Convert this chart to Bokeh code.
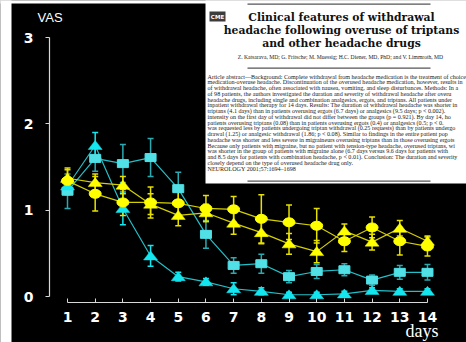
from bokeh.plotting import figure
from bokeh.models import (Range1d, FixedTicker, Whisker, TeeHead, ColumnDataSource,
                          BoxAnnotation, Label)
from bokeh.embed import file_html
from bokeh.resources import INLINE

# ---------------- data ----------------
days = [1, 2, 3, 4, 5, 6, 7, 8, 9, 10, 11, 12, 13, 14]
y_ticks = [0, 1, 2, 3]

yellow_circle = [1.34, 1.19, 1.09, 1.09, 1.08, 1.02, 1.01, 0.90, 0.86, 0.82, 0.64, 0.80, 0.64, 0.58]
yellow_circle_err = [0.15, 0.20, 0.15, 0.18, 0.15, 0.15, 0.15, 0.28, 0.20, 0.20, 0.12, 0.12, 0.16, 0.11]

yellow_tri = [1.37, 1.32, 1.29, 1.07, 0.94, 0.97, 0.85, 0.74, 0.61, 0.52, 0.76, 0.63, 0.79, 0.64]
yellow_tri_err = [0.10, 0.10, 0.10, 0.12, 0.12, 0.10, 0.13, 0.13, 0.12, 0.13, 0.08, 0.09, 0.09, 0.06]

cyan_square = [1.22, 1.60, 1.54, 1.61, 1.25, 0.72, 0.36, 0.38, 0.23, 0.29, 0.31, 0.19, 0.28, 0.28]
cyan_square_err = [0.20, 0.15, 0.22, 0.22, 0.19, 0.16, 0.09, 0.11, 0.07, 0.08, 0.07, 0.06, 0.08, 0.09]

cyan_tri = [1.28, 1.75, 1.02, 0.47, 0.23, 0.17, 0.09, 0.06, 0.02, 0.02, 0.03, 0.07, 0.06, 0.06]
cyan_tri_err = [0.10, 0.15, 0.19, 0.12, 0.05, 0.04, 0.07, 0.04, 0.03, 0.03, 0.03, 0.03, 0.03, 0.03]

title_lines = ["Clinical features of withdrawal",
               "headache following overuse of triptans",
               "and other headache drugs"]
authors = "Z. Katsarava, MD; G. Fritsche; M. Muessig; H.C. Diener, MD, PhD; and V. Limmroth, MD"
abstract_lines = [
    "Article abstract\u2014Background: Complete withdrawal from headache medication is the treatment of choice fo",
    "medication-overuse headache. Discontinuation of the overused headache medication, however, results in the developme",
    "of withdrawal headache, often associated with nausea, vomiting, and sleep disturbances. Methods: In a prospective stud",
    "of 98 patients, the authors investigated the duration and severity of withdrawal headache after overuse of variou",
    "headache drugs, including single and combination analgesics, ergots, and triptans. All patients underwent standar",
    "inpatient withdrawal therapy for 14 days. Results: The duration of withdrawal headache was shorter in patients overusin",
    "triptans (4.1 days) than in patients overusing ergots (6.7 days) or analgesics (9.5 days; p < 0.002). The mean headach",
    "intensity on the first day of withdrawal did not differ between the groups (p = 0.921). By day 14, however, it was lower i",
    "patients overusing triptans (0.08) than in patients overusing ergots (0.4) or analgesics (0.5; p < 0.008). Rescue medicatio",
    "was requested less by patients undergoing triptan withdrawal (0.25 requests) than by patients undergoing ergot with",
    "drawal (1.25) or analgesic withdrawal (1.86; p < 0.08). Similar to findings in the entire patient population, withdraw",
    "headache was shorter and less severe in migraineurs overusing triptans than in those overusing ergots or analges",
    "Because only patients with migraine, but no patient with tension-type headache, overused triptans, withdrawal headac",
    "was shorter in the group of patients with migraine alone (6.7 days versus 9.6 days for patients with tension-type headac",
    "and 8.5 days for patients with combination headache, p < 0.01). Conclusion: The duration and severity of withdraw",
    "closely depend on the type of overused headache drug only.",
    "NEUROLOGY 2001;57:1694\u20131698",
]
MAXCH = 101

# ---------------- geometry (page pixels == figure pixels) ----------------
W, H = 466, 342
PX, PY = 27.69, 86.3          # pixels per day / per VAS unit
X1_PAGE, Y0_PAGE = 67, 296    # page position of day 1 / VAS 0
x_start = 1 - X1_PAGE / PX
x_end = x_start + W / PX
y_end = Y0_PAGE / PY
y_start = y_end - H / PY


def dx(fx):  # page pixel x -> data x
    return x_start + fx / PX


def dy(fy):  # page pixel y (from top) -> data y
    return y_end - fy / PY


p = figure(width=W, height=H, output_backend="svg", toolbar_location=None,
           x_range=Range1d(x_start, x_end), y_range=Range1d(y_start, y_end),
           min_border=0, background_fill_color="black", border_fill_color="black",
           outline_line_color=None)
p.title.visible = False
p.grid.visible = False

for ax in (p.xaxis[0], p.yaxis[0]):
    ax.axis_line_color = "#d8d8d8"
    ax.axis_line_width = 1.2
    ax.major_tick_line_color = "#d8d8d8"
    ax.minor_tick_line_color = None
    ax.major_label_text_color = "white"
    ax.major_label_text_font = "DejaVu Sans"
    ax.major_label_text_font_style = "bold"
    ax.major_label_text_font_size = "14px"

p.xaxis.fixed_location = dy(302)
p.xaxis.bounds = (1, 14)
p.xaxis.ticker = FixedTicker(ticks=days)
p.xaxis.major_tick_in = 4
p.xaxis.major_tick_out = 0
p.xaxis.major_label_standoff = 9

p.yaxis.fixed_location = dx(49)
p.yaxis.bounds = (0, 3)
p.yaxis.ticker = FixedTicker(ticks=y_ticks)
p.yaxis.major_tick_in = 0
p.yaxis.major_tick_out = 4
p.yaxis.major_label_standoff = 12

YEL = "#ffff00"
YEL_LINE = "#d4cf00"
CYA_T = "#14e6f0"
CYA_S = "#50e0e6"
CYA_LINE = "#22bfc8"
CYA_BAR = "#2aaab2"


def whisk(vals, errs, color):
    src = ColumnDataSource(dict(x=days, lo=[v - e for v, e in zip(vals, errs)],
                                hi=[v + e for v, e in zip(vals, errs)]))
    w = Whisker(source=src, base="x", lower="lo", upper="hi", dimension="height",
                line_color=color, line_width=1.5,
                lower_head=TeeHead(size=6, line_color=color, line_width=1.5),
                upper_head=TeeHead(size=6, line_color=color, line_width=1.5))
    p.add_layout(w)


whisk(cyan_square, cyan_square_err, CYA_BAR)
whisk(cyan_tri, cyan_tri_err, CYA_T)
whisk(yellow_tri, yellow_tri_err, "#e6e000")
whisk(yellow_circle, yellow_circle_err, "#e6e000")

p.line(days, cyan_square, line_color=CYA_LINE, line_width=1.2)
p.line(days, cyan_tri, line_color=CYA_LINE, line_width=1.2)
p.line(days, yellow_circle, line_color=YEL_LINE, line_width=1.2)
p.line(days, yellow_tri, line_color=YEL_LINE, line_width=1.2)

# flattened triangle markers (half-width 7px, top +5px, base -4px)
hw, up, dn = 7 / PX, 5 / PY, 4 / PY


def tri_patches(vals, color):
    xs = [[d - hw, d + hw, d] for d in days]
    ys = [[v - dn, v - dn, v + up] for v in vals]
    p.patches(xs, ys, fill_color=color, line_color=color, line_width=0.5)


p.rect(days, cyan_square, width=11, height=8, width_units="screen", height_units="screen",
       fill_color=CYA_S, line_color=CYA_S)
tri_patches(cyan_tri, CYA_T)
tri_patches(yellow_tri, YEL)
p.ellipse(days, yellow_circle, width=12, height=9, width_units="screen", height_units="screen",
          fill_color=YEL, line_color=YEL)

# axis captions
p.add_layout(Label(x=dx(37), y=dy(17), text="VAS", text_color="white", text_font="Liberation Sans",
                   text_font_size="13px", text_baseline="middle", text_align="left"))
p.add_layout(Label(x=dx(405), y=dy(330), text="days", text_color="white", text_font="Liberation Serif",
                   text_font_size="18px", text_baseline="alphabetic", text_align="left"))

# white page strips of the original picture
p.add_layout(BoxAnnotation(left=x_start - 1, right=dx(11), top=y_end + 1, bottom=y_start - 1,
                           fill_color="white", fill_alpha=1, line_color=None))
p.add_layout(BoxAnnotation(left=x_start - 1, right=x_end + 1, top=y_end + 1, bottom=dy(3),
                           fill_color="white", fill_alpha=1, line_color=None))

# ---------------- article inset ----------------
p.add_layout(BoxAnnotation(left=dx(205), right=x_end + 1, top=y_end + 1, bottom=dy(183),
                           fill_color="white", fill_alpha=1, line_color=None))
p.add_layout(BoxAnnotation(left=dx(209), right=dx(225), top=dy(11), bottom=dy(21),
                           fill_color="#3c3c3c", fill_alpha=1, line_color=None))
p.add_layout(Label(x=dx(217), y=dy(16), text="CME", text_color="white", text_font="DejaVu Sans",
                   text_font_style="bold", text_font_size="5.5px", text_align="center",
                   text_baseline="middle"))
for fy in (3, 67, 180):
    p.add_layout(BoxAnnotation(left=dx(247), right=dx(430), top=dy(fy), bottom=dy(fy + 1.3),
                               fill_color="#555555", fill_alpha=1, line_color=None))
for i, t in enumerate(title_lines):
    p.add_layout(Label(x=dx(341), y=dy(16.5 + i * 13), text=t, text_color="#111111",
                       text_font="DejaVu Serif", text_font_style="bold", text_font_size="10.8px",
                       text_align="center", text_baseline="middle"))
p.add_layout(Label(x=dx(340), y=dy(56), text=authors, text_color="#222222",
                   text_font="Liberation Serif", text_font_size="5.6px",
                   text_align="center", text_baseline="middle"))
for i, t in enumerate(abstract_lines):
    p.add_layout(Label(x=dx(207), y=dy(76 + i * 5.75), text=t[:MAXCH], text_color="#1a1a1a",
                       text_font="Liberation Serif", text_font_size="6.1px",
                       text_align="left", text_baseline="middle"))

open("out.html", "w").write(file_html(p, INLINE))
